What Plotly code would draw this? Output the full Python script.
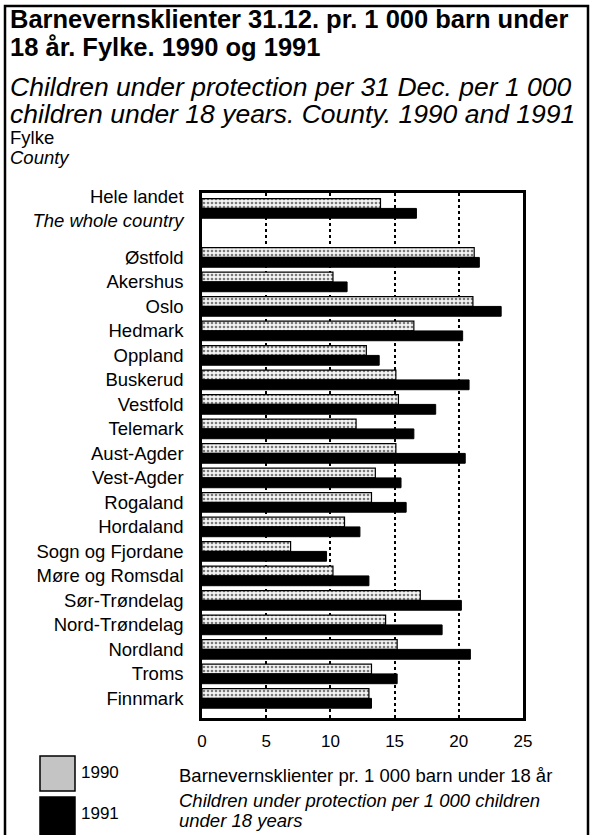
import plotly.graph_objects as go

counties = ["Hele landet<br><i>The whole country</i>", "Østfold", "Akershus", "Oslo", "Hedmark", "Oppland",
            "Buskerud", "Vestfold", "Telemark", "Aust-Agder", "Vest-Agder", "Rogaland",
            "Hordaland", "Sogn og Fjordane", "Møre og Romsdal", "Sør-Trøndelag",
            "Nord-Trøndelag", "Nordland", "Troms", "Finnmark"]
positions = [0, 2, 3, 4, 5, 6, 7, 8, 9, 10, 11, 12, 13, 14, 15, 16, 17, 18, 19, 20]
v1990 = [13.9, 21.2, 10.2, 21.1, 16.5, 12.8, 15.1, 15.3, 12.0, 15.1, 13.5, 13.2,
         11.1, 6.9, 10.2, 17.0, 14.3, 15.2, 13.2, 13.0]
v1991 = [16.7, 21.6, 11.3, 23.3, 20.3, 13.8, 20.8, 18.2, 16.5, 20.5, 15.5, 15.9,
         12.3, 9.7, 13.0, 20.2, 18.7, 20.9, 15.2, 13.2]
xticks = [0, 5, 10, 15, 20, 25]

FONT = "Liberation Sans, Arial, sans-serif"

fig = go.Figure()
fig.add_trace(go.Bar(
    y=positions, x=v1990, orientation="h", name="1990",
    marker=dict(color="#e6e6e6", line=dict(color="black", width=1.2),
                pattern=dict(shape=".", fgcolor="black", bgcolor="#f4f4f4", size=4, solidity=0.35)),
))
fig.add_trace(go.Bar(
    y=positions, x=v1991, orientation="h", name="1991",
    marker=dict(color="black", line=dict(color="black", width=1)),
))

W, H = 593, 835
L, R, T, B = 202, 70, 193, 117
pw, ph = W - L - R, H - T - B


def px(x):
    return (x - L) / pw


def py(y):
    return (H - B - y) / ph


fig.update_layout(
    width=W, height=H,
    margin=dict(l=L, r=R, t=T, b=B),
    paper_bgcolor="white", plot_bgcolor="white",
    barmode="group", bargap=0.2, bargroupgap=0,
    showlegend=False,
    font=dict(family=FONT, color="black", size=17),
)
fig.update_xaxes(
    range=[0, 25], tickvals=xticks, ticktext=[str(t) for t in xticks],
    showgrid=True, gridcolor="black", griddash="dot", gridwidth=2,
    zeroline=False, showline=True, linecolor="black", linewidth=2.5, mirror=True,
    ticks="", tickfont=dict(size=17), ticklabelstandoff=6,
)
fig.update_yaxes(
    range=[20.8, -0.63], tickvals=positions, ticktext=counties,
    showgrid=False, zeroline=False, showline=True, linecolor="black", linewidth=2.5,
    mirror=True, ticks="", tickfont=dict(size=18.5), ticklabelstandoff=12,
)

shapes = [
    dict(type="rect", xref="paper", yref="paper", x0=px(5), x1=px(588), y0=py(850), y1=py(6),
         line=dict(color="black", width=2.5), fillcolor="rgba(0,0,0,0)", layer="above"),
    dict(type="rect", xref="paper", yref="paper", x0=px(40), x1=px(75), y0=py(791), y1=py(756),
         line=dict(color="black", width=1.5), fillcolor="#c4c4c4"),
    dict(type="rect", xref="paper", yref="paper", x0=px(40), x1=px(75), y0=py(850), y1=py(797),
         line=dict(color="black", width=1.5), fillcolor="black"),
]
fig.update_layout(shapes=shapes)

ann = [
    (8, 19, "<b>Barnevernsklienter 31.12. pr. 1 000 barn under</b>", 25.5),
    (8, 47, "<b>18 år. Fylke. 1990 og 1991</b>", 25.5),
    (8, 87, "<i>Children under protection per 31 Dec. per 1 000</i>", 26.5),
    (8, 114, "<i>children under 18 years. County. 1990 and 1991</i>", 26.5),
    (8, 138, "Fylke", 18.5),
    (8, 157, "<i>County</i>", 18.5),
    (79, 772, "1990", 17),
    (79, 813, "1991", 17),
    (177, 775, "Barnevernsklienter pr. 1 000 barn under 18 år", 18.5),
    (177, 800, "<i>Children under protection per 1 000 children</i>", 18.5),
    (177, 820, "<i>under 18 years</i>", 18.5),
]
for x, y, text, size in ann:
    fig.add_annotation(xref="paper", yref="paper", x=px(x), y=py(y), xanchor="left",
                       yanchor="middle", text=text, showarrow=False,
                       font=dict(size=size, family=FONT, color="black"))

fig.write_html("out.html", config={"displayModeBar": False},
               post_script="document.body.style.margin='0';document.body.style.overflow='hidden';")
